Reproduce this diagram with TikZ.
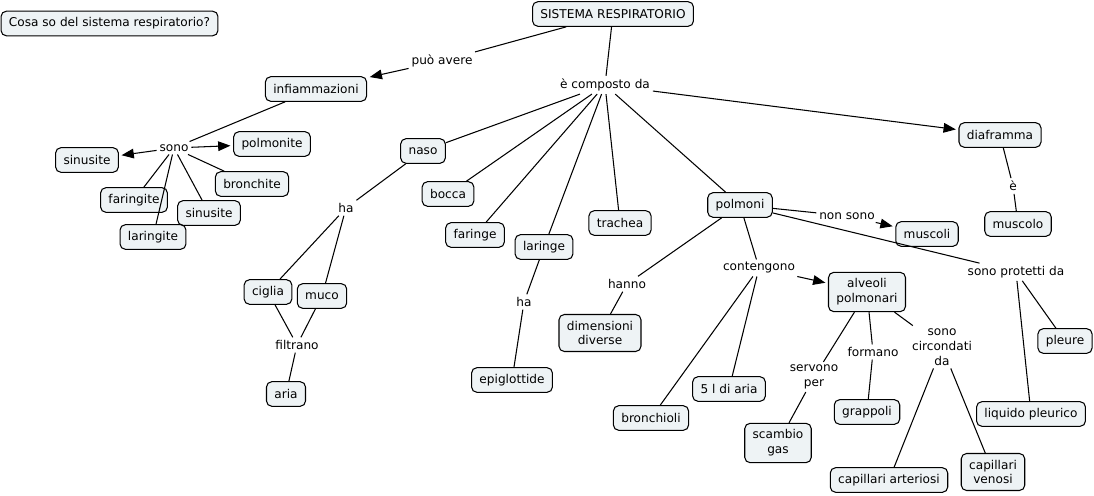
\documentclass[tikz,border=0pt]{standalone}
\usepackage{fontspec}
\setmainfont{DejaVu Sans}
\usetikzlibrary{arrows.meta}
\definecolor{conceptfill}{HTML}{EEF3F5}

\begin{document}
\begin{tikzpicture}[x=0.02cm, y=-0.02cm,
		font=\fontsize{6.9}{8.5}\selectfont,
		concept/.style={draw, line width=0.6pt, fill=conceptfill, rounded corners=3pt,
			inner xsep=4.5pt, inner ysep=3.6pt, minimum height=14pt, align=center},
		linkword/.style={inner sep=1.5pt, align=center},
		conn/.style={line width=0.6pt},
		arr/.style={line width=0.6pt, -{Triangle[length=7pt, width=5.5pt]}, shorten >=1.5pt}]
			%%%%% START %%%%%
			
			\useasboundingbox (0, 0) rectangle (1094, 496);
			
			\node[concept] (q) at (109.5, 23.5) {Cosa so del sistema respiratorio?};
			\node[concept] (root) at (613, 14) {SISTEMA RESPIRATORIO};
			
			\node[concept] (infiamm) at (316, 89) {infiammazioni};
			\node[concept] (polmonite) at (272, 144) {polmonite};
			\node[concept] (sinusiteA) at (87, 160) {sinusite};
			\node[concept] (bronchite) at (252, 184) {bronchite};
			\node[concept] (faringite) at (134, 200) {faringite};
			\node[concept] (sinusiteB) at (209, 213) {sinusite};
			\node[concept] (laringite) at (153, 237) {laringite};
			
			\node[concept] (naso) at (423, 151) {naso};
			\node[concept] (bocca) at (448, 194) {bocca};
			\node[concept] (faringe) at (475, 235) {faringe};
			\node[concept] (laringe) at (544, 247) {laringe};
			\node[concept] (trachea) at (620, 223) {trachea};
			\node[concept] (polmoni) at (740, 205) {polmoni};
			\node[concept] (diaframma) at (1000, 135) {diaframma};
			\node[concept] (muscolo) at (1018, 224) {muscolo};
			\node[concept] (muscoli) at (927, 234) {muscoli};
			
			\node[concept] (ciglia) at (268, 292) {ciglia};
			\node[concept] (muco) at (322, 296) {muco};
			\node[concept] (aria) at (286, 394) {aria};
			\node[concept] (epiglottide) at (512, 380) {epiglottide};
			\node[concept] (dimensioni) at (600, 333) {dimensioni\\diverse};
			\node[concept] (alveoli) at (867, 292) {alveoli\\polmonari};
			\node[concept] (pleure) at (1065, 341) {pleure};
			\node[concept] (bronchioli) at (651, 418) {bronchioli};
			\node[concept] (litri) at (729, 389) {5 l di aria};
			\node[concept] (grappoli) at (867, 412) {grappoli};
			\node[concept] (scambio) at (778, 443) {scambio\\gas};
			\node[concept] (capart) at (889, 480) {capillari arteriosi};
			\node[concept] (capven) at (993, 472) {capillari\\venosi};
			\node[concept] (liquido) at (1031, 414) {liquido pleurico};
			
			\node[linkword] (lAvere) at (442, 61) {può avere};
			\node[linkword] (lComposto) at (605, 85) {è composto da};
			\node[linkword] (lSono) at (174, 148) {sono};
			\node[linkword] (lHaNaso) at (346, 208) {ha};
			\node[linkword] (lFiltrano) at (297, 345) {filtrano};
			\node[linkword] (lHaLaringe) at (524, 302) {ha};
			\node[linkword] (lHanno) at (627, 284) {hanno};
			\node[linkword] (lContengono) at (759, 268) {contengono};
			\node[linkword] (lNonSono) at (847, 216) {non sono};
			\node[linkword] (lProtetti) at (1016, 272) {sono protetti da};
			\node[linkword] (lE) at (1013, 186) {è};
			\node[linkword] (lServono) at (814, 377) {servono\\per};
			\node[linkword] (lFormano) at (873, 352) {formano};
			\node[linkword] (lCircondati) at (942, 347) {sono\\circondati\\da};
			
			\draw[conn] (root) -- (lAvere);
			\draw[arr] (lAvere) -- (infiamm);
			\draw[conn] (root) -- (lComposto);
			\draw[conn] (lComposto) -- (naso);
			\draw[conn] (lComposto) -- (bocca);
			\draw[conn] (lComposto) -- (faringe);
			\draw[conn] (lComposto) -- (laringe);
			\draw[conn] (lComposto) -- (trachea);
			\draw[conn] (lComposto) -- (polmoni);
			\draw[arr] (lComposto) -- (diaframma);
			
			\draw[conn] (infiamm) -- (lSono);
			\draw[arr] (lSono) -- (polmonite);
			\draw[arr] (lSono) -- (sinusiteA);
			\draw[conn] (lSono) -- (bronchite);
			\draw[conn] (lSono) -- (faringite);
			\draw[conn] (lSono) -- (sinusiteB);
			\draw[conn] (lSono) -- (laringite);
			
			\draw[conn] (naso) -- (lHaNaso);
			\draw[conn] (lHaNaso) -- (ciglia);
			\draw[conn] (lHaNaso) -- (muco);
			\draw[conn] (ciglia) -- (lFiltrano);
			\draw[conn] (muco) -- (lFiltrano);
			\draw[conn] (lFiltrano) -- (aria);
			
			\draw[conn] (laringe) -- (lHaLaringe);
			\draw[conn] (lHaLaringe) -- (epiglottide);
			
			\draw[conn] (polmoni) -- (lHanno);
			\draw[conn] (lHanno) -- (dimensioni);
			\draw[conn] (polmoni) -- (lContengono);
			\draw[arr] (lContengono) -- (alveoli);
			\draw[conn] (lContengono) -- (bronchioli);
			\draw[conn] (lContengono) -- (litri);
			\draw[conn] (polmoni) -- (lNonSono);
			\draw[arr] (lNonSono) -- (muscoli);
			\draw[conn] (polmoni) -- (lProtetti);
			\draw[conn] (lProtetti) -- (pleure);
			\draw[conn] (lProtetti) -- (liquido);
			
			\draw[conn] (diaframma) -- (lE);
			\draw[conn] (lE) -- (muscolo);
			
			\draw[conn] (alveoli) -- (lServono);
			\draw[conn] (lServono) -- (scambio);
			\draw[conn] (alveoli) -- (lFormano);
			\draw[conn] (lFormano) -- (grappoli);
			\draw[conn] (alveoli) -- (lCircondati);
			\draw[conn] (lCircondati) -- (capart);
			\draw[conn] (lCircondati) -- (capven);
			
			%%%%% END %%%%%
\end{tikzpicture}
\end{document}
